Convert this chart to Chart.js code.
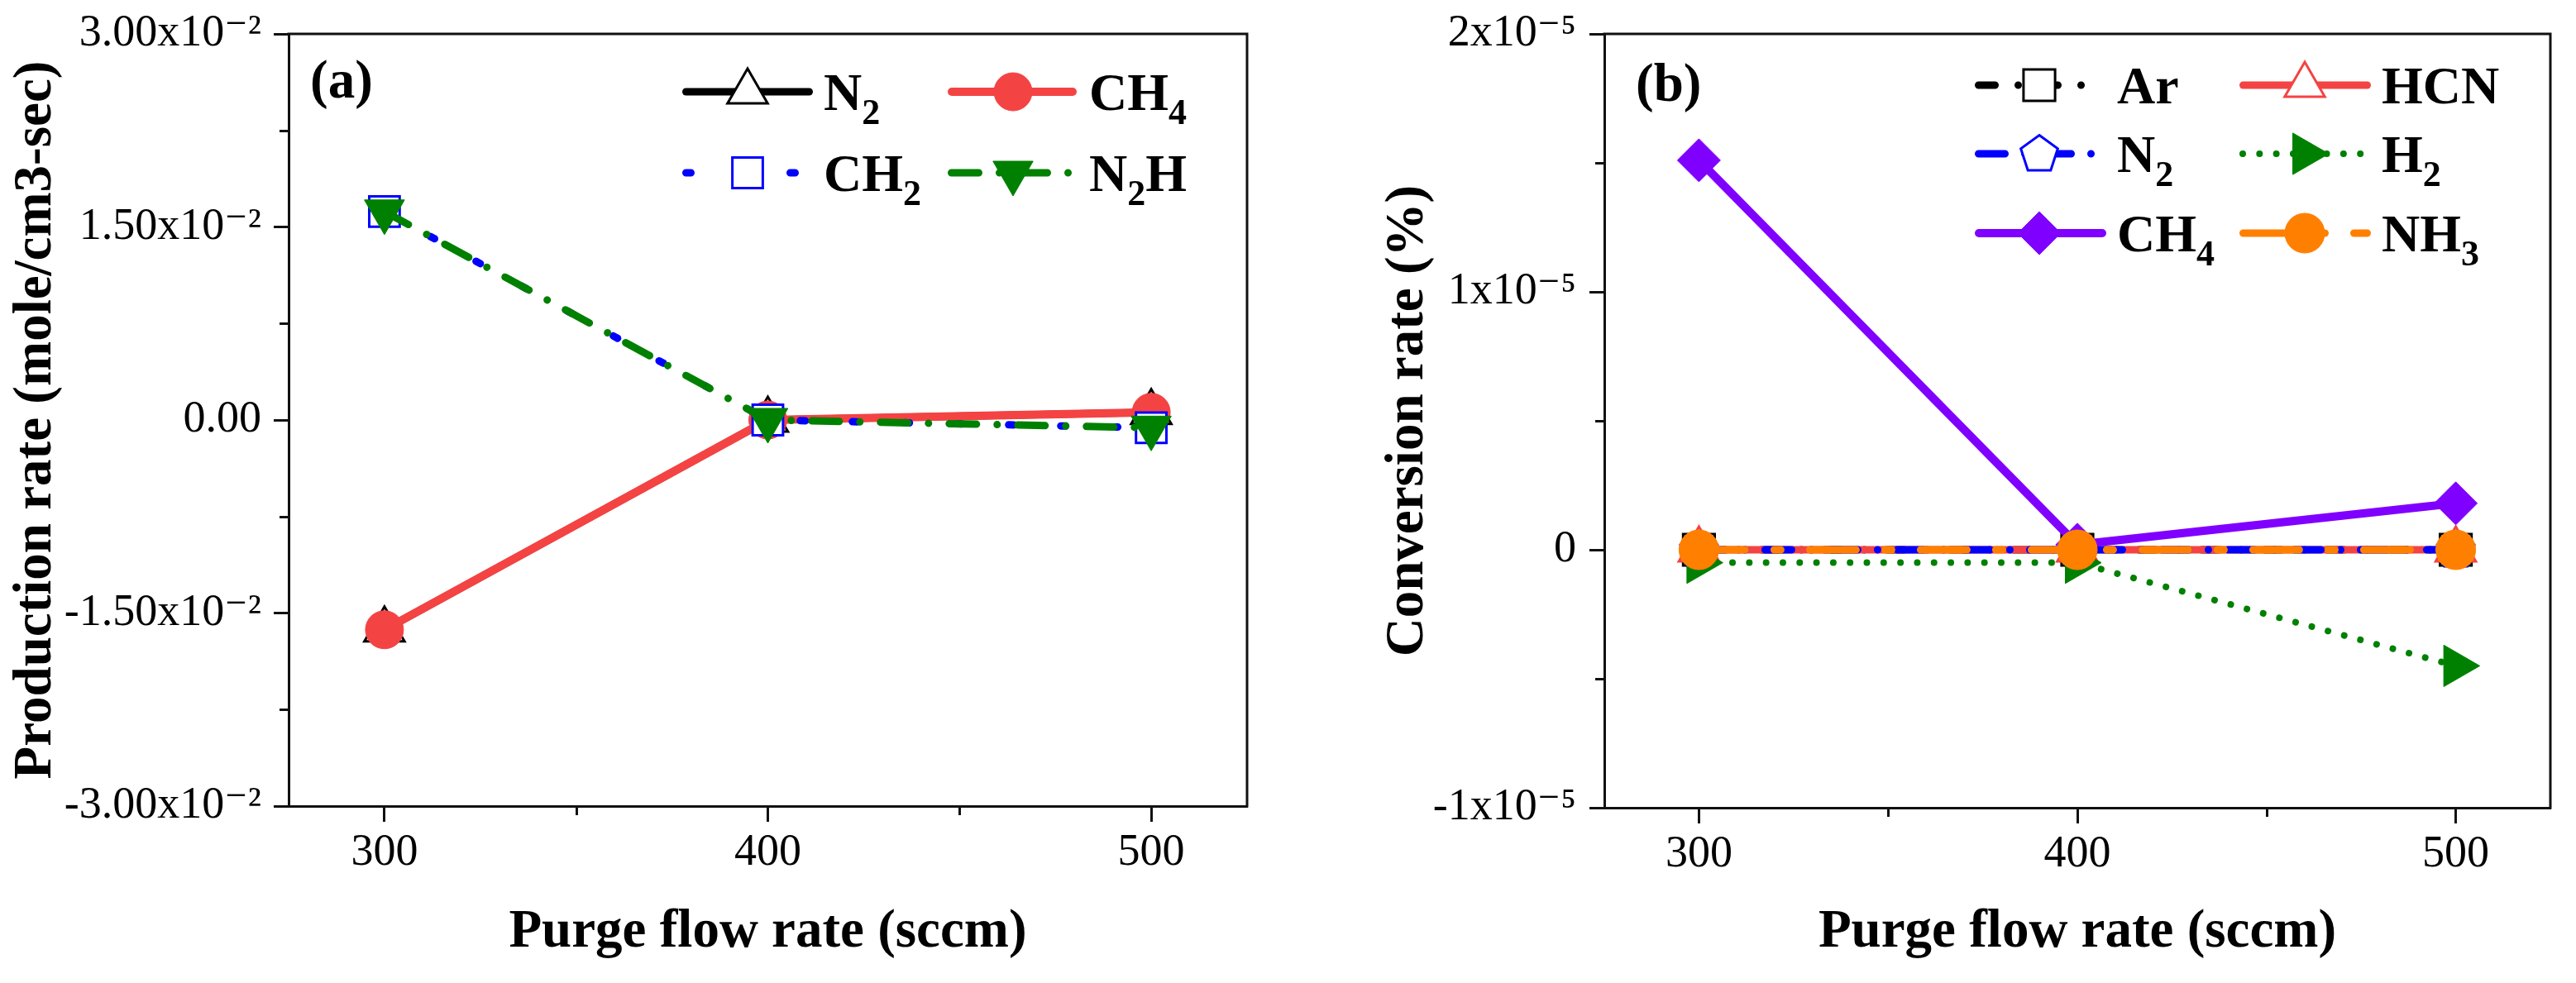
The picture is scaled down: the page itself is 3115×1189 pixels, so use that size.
<!DOCTYPE html>
<html><head><meta charset="utf-8">
<script src="https://cdn.jsdelivr.net/npm/chart.js@4/dist/chart.umd.min.js"></script>
<style>
html,body{margin:0;padding:0;background:#fff;width:3115px;height:1189px;overflow:hidden}
canvas{position:absolute;top:0}
#ca{left:0}
#cb{left:1555px}
</style></head><body>
<canvas id="ca" width="1555" height="1189" style="width:1555px;height:1189px"></canvas>
<canvas id="cb" width="1560" height="1189" style="width:1560px;height:1189px"></canvas>
<script>
// ---------------- DATA ----------------
const xValues = [300, 400, 500];
const xTicks = [300, 400, 500];
const xTickLabels = ['300', '400', '500'];

// Panel (a): production rate (mole/cm3-sec)
const aN2  = [-0.0163, 0.0000, 0.0006];
const aCH4 = [-0.0163, 0.0000, 0.0006];
const aCH2 = [0.0162, 0.0000, -0.0006];
const aN2H = [0.0162, 0.0000, -0.0006];
const aYTicks = [-0.03, -0.015, 0, 0.015, 0.03];
const aYTickLabels = ['-3.00x10\u207B\u00B2', '-1.50x10\u207B\u00B2', '0.00', '1.50x10\u207B\u00B2', '3.00x10\u207B\u00B2'];

// Panel (b): conversion rate (%)
const bAr  = [0, 0, 0];
const bHCN = [0, 0, 0];
const bN2  = [0, 0, 0];
const bH2  = [-0.05e-5, -0.05e-5, -0.45e-5];
const bCH4 = [1.51e-5, 0.02e-5, 0.18e-5];
const bNH3 = [0, 0, 0];
const bYTicks = [-1e-5, 0, 1e-5, 2e-5];
const bYTickLabels = ['-1x10\u207B\u2075', '0', '1x10\u207B\u2075', '2x10\u207B\u2075'];

// ---------------- STYLE ----------------
const FONT = "'Liberation Serif', 'Times New Roman', Times, 'DejaVu Serif', serif";
Chart.defaults.font.family = FONT;
const RED = '#f44343', BLUE = '#0000ff', GREEN = '#008000', PURPLE = '#8000ff', ORANGE = '#ff8000', BLACK = '#000000';
const AXIS = '#111111';

function makePentagon(color) {
  const c = document.createElement('canvas');
  c.width = 60; c.height = 60;
  const g = c.getContext('2d');
  const R = 23.5, cx = 30, cy = 31;
  g.beginPath();
  for (let k = 0; k < 5; k++) {
    const a = -Math.PI / 2 + k * 2 * Math.PI / 5;
    const px = cx + R * Math.cos(a), py = cy + R * Math.sin(a);
    if (k === 0) g.moveTo(px, py); else g.lineTo(px, py);
  }
  g.closePath();
  g.fillStyle = '#fff'; g.fill();
  g.lineWidth = 3; g.strokeStyle = color; g.lineJoin = 'miter'; g.stroke();
  return c;
}
const PENTAGON = makePentagon(BLUE);

function buildTickValues(majors) {
  const out = [];
  for (let i = 0; i < majors.length; i++) {
    out.push(majors[i]);
    if (i < majors.length - 1) out.push((majors[i] + majors[i + 1]) / 2);
  }
  return out;
}
function majorIndex(v, majors) {
  const tol = Math.abs(majors[majors.length - 1] - majors[0]) * 1e-6;
  for (let i = 0; i < majors.length; i++) if (Math.abs(v - majors[i]) <= tol) return i;
  return -1;
}

function ds(label, arr, s) {
  return {
    label,
    data: xValues.map((x, i) => ({ x, y: arr[i] })),
    borderColor: s.color,
    borderWidth: s.width,
    borderDash: s.dash,
    borderCapStyle: 'round',
    borderJoinStyle: 'round',
    pointStyle: s.marker,
    pointRadius: s.r,
    pointHoverRadius: s.r,
    pointRotation: s.rot || 0,
    pointBackgroundColor: s.open ? '#ffffff' : s.color,
    pointBorderColor: s.color,
    pointBorderWidth: s.open ? 3 : 1,
    tension: 0,
    fill: false,
    order: s.order,
    clip: false
  };
}

function drawMarker(ctx, s, x, y) {
  if (s.marker instanceof HTMLCanvasElement) {
    ctx.drawImage(s.marker, x - s.marker.width / 2, y - s.marker.height / 2);
    return;
  }
  ctx.save();
  ctx.setLineDash([]);
  ctx.fillStyle = s.open ? '#ffffff' : s.color;
  ctx.strokeStyle = s.color;
  ctx.lineWidth = s.open ? 3 : 1;
  const r = s.r;
  let rad = (s.rot || 0) * Math.PI / 180;
  ctx.beginPath();
  if (s.marker === 'circle') {
    ctx.arc(x, y, r, 0, 2 * Math.PI);
  } else if (s.marker === 'rect') {
    const h = Math.SQRT1_2 * r;
    ctx.rect(x - h, y - h, 2 * h, 2 * h);
  } else if (s.marker === 'rectRot') {
    ctx.moveTo(x - r, y); ctx.lineTo(x, y - r); ctx.lineTo(x + r, y); ctx.lineTo(x, y + r); ctx.closePath();
  } else if (s.marker === 'triangle') {
    ctx.moveTo(x + Math.sin(rad) * r, y - Math.cos(rad) * r);
    rad += 2 * Math.PI / 3;
    ctx.lineTo(x + Math.sin(rad) * r, y - Math.cos(rad) * r);
    rad += 2 * Math.PI / 3;
    ctx.lineTo(x + Math.sin(rad) * r, y - Math.cos(rad) * r);
    ctx.closePath();
  }
  ctx.fill();
  ctx.stroke();
  ctx.restore();
}

function drawRich(ctx, parts, x, baseline) {
  let cx = x;
  ctx.fillStyle = '#000';
  ctx.textAlign = 'left';
  ctx.textBaseline = 'alphabetic';
  for (const p of parts) {
    const sub = p[1] === true;
    ctx.font = (sub ? 'bold 44px ' : 'bold 64px ') + FONT;
    ctx.fillText(p[0], cx, baseline + (sub ? 17 : 0));
    cx += ctx.measureText(p[0]).width;
  }
}

function makeDecor(cfg) {
  return {
    id: 'decor',
    afterDraw(chart) {
      const { ctx, chartArea: ca } = chart;
      const xs = chart.scales.x, ys = chart.scales.y;
      ctx.save();
      // top & right frame
      ctx.strokeStyle = AXIS; ctx.lineWidth = 3; ctx.lineCap = 'butt'; ctx.setLineDash([]);
      ctx.beginPath();
      ctx.moveTo(ca.left - 1.5, ca.top); ctx.lineTo(ca.right, ca.top); ctx.lineTo(ca.right, ca.bottom + 1.5);
      ctx.stroke();
      // minor ticks
      ctx.beginPath();
      for (const t of ys.ticks) {
        if (majorIndex(t.value, cfg.yMajors) < 0) {
          const p = Math.round(ys.getPixelForValue(t.value)) + 0.5;
          ctx.moveTo(ca.left, p); ctx.lineTo(ca.left - 11, p);
        }
      }
      for (const t of xs.ticks) {
        if (majorIndex(t.value, xTicks) < 0) {
          const p = Math.round(xs.getPixelForValue(t.value)) + 0.5;
          ctx.moveTo(p, ca.bottom); ctx.lineTo(p, ca.bottom + 11);
        }
      }
      ctx.stroke();
      // panel label
      ctx.fillStyle = '#000';
      ctx.font = 'bold 65px ' + FONT;
      ctx.textAlign = 'left'; ctx.textBaseline = 'alphabetic';
      ctx.fillText(cfg.panel.text, cfg.panel.x, cfg.panel.y);
      // legend
      for (const e of cfg.legend) {
        const s = e.s;
        ctx.save();
        ctx.strokeStyle = s.color; ctx.lineWidth = s.width; ctx.lineCap = 'round';
        ctx.setLineDash(s.dash);
        ctx.beginPath();
        ctx.moveTo(e.x1 + s.width / 2, e.y); ctx.lineTo(e.x2 - s.width / 2, e.y);
        ctx.stroke();
        ctx.restore();
        drawMarker(ctx, s, e.mx, e.y);
        drawRich(ctx, e.parts, e.tx, e.y + 22);
      }
      ctx.restore();
    }
  };
}

function makeChart(id, cfg) {
  const canvas = document.getElementById(id);
  const W = canvas.width, H = canvas.height;
  return new Chart(canvas, {
    type: 'line',
    data: { datasets: cfg.datasets },
    options: {
      responsive: false,
      animation: false,
      devicePixelRatio: 1,
      events: [],
      layout: { padding: { left: 0, top: cfg.plotTop, right: W - cfg.plotRight, bottom: 0 } },
      plugins: { legend: { display: false }, tooltip: { enabled: false } },
      scales: {
        x: {
          type: 'linear', position: 'bottom', min: 275, max: 525,
          afterBuildTicks: (s) => { s.ticks = buildTickValues(xTicks).map(v => ({ value: v })); },
          afterFit: (s) => { s.height = H - cfg.plotBottom; s.paddingLeft = 0; s.paddingRight = 0; },
          ticks: {
            autoSkip: false, maxRotation: 0, minRotation: 0, padding: 5, color: '#000',
            font: { size: 54, family: FONT },
            callback: (v) => { const i = majorIndex(v, xTicks); return i < 0 ? '' : xTickLabels[i]; }
          },
          grid: {
            display: true, drawOnChartArea: false, drawTicks: true, tickLength: 19, tickWidth: 3,
            tickColor: (c) => (c.tick && majorIndex(c.tick.value, xTicks) >= 0) ? AXIS : 'rgba(0,0,0,0)'
          },
          border: { display: true, color: AXIS, width: 3 },
          title: {
            display: true, text: 'Purge flow rate (sccm)', color: '#000',
            font: { size: 65, weight: 'bold', family: FONT }, padding: { top: 0, bottom: 22 }
          }
        },
        y: {
          type: 'linear', position: 'left', min: cfg.yMajors[0], max: cfg.yMajors[cfg.yMajors.length - 1],
          afterBuildTicks: (s) => { s.ticks = buildTickValues(cfg.yMajors).map(v => ({ value: v })); },
          afterFit: (s) => { s.width = cfg.plotLeft; s.paddingTop = 0; s.paddingBottom = 0; },
          ticks: {
            autoSkip: false, padding: cfg.yTickPad, color: '#000',
            font: { size: 54, family: FONT },
            callback: (v) => { const i = majorIndex(v, cfg.yMajors); return i < 0 ? '' : cfg.yLabels[i]; }
          },
          grid: {
            display: true, drawOnChartArea: false, drawTicks: true, tickLength: 18, tickWidth: 3,
            tickColor: (c) => (c.tick && majorIndex(c.tick.value, cfg.yMajors) >= 0) ? AXIS : 'rgba(0,0,0,0)'
          },
          border: { display: true, color: AXIS, width: 3 },
          title: {
            display: true, text: cfg.yTitle, color: '#000',
            font: { size: 65, weight: 'bold', family: FONT }, padding: { top: cfg.yTitlePad, bottom: 0 }
          }
        }
      }
    },
    plugins: [makeDecor(cfg)]
  });
}

// ---------- Panel (a) ----------
const sA = {
  N2:  { color: BLACK, width: 9,  dash: [], marker: 'triangle', r: 28, open: true, order: 3 },
  CH4: { color: RED,   width: 10, dash: [], marker: 'circle', r: 23, open: false, order: 2 },
  CH2: { color: BLUE,  width: 9,  dash: [6, 57], marker: 'rect', r: 26, open: true, order: 1 },
  N2H: { color: GREEN, width: 9,  dash: [33, 25, 0.01, 25], marker: 'triangle', rot: 180, r: 28, open: false, order: 0 }
};
makeChart('ca', {
  plotLeft: 349, plotRight: 1508, plotTop: 41, plotBottom: 975,
  yMajors: aYTicks, yLabels: aYTickLabels, yTickPad: 15,
  yTitle: 'Production rate (mole/cm3-sec)', yTitlePad: 5,
  datasets: [
    ds('N\u2082', aN2, sA.N2),
    ds('CH\u2084', aCH4, sA.CH4),
    ds('CH\u2082', aCH2, sA.CH2),
    ds('N\u2082H', aN2H, sA.N2H)
  ],
  panel: { text: '(a)', x: 375, y: 118 },
  legend: [
    { s: sA.N2,  x1: 825,  x2: 983,  mx: 904,  tx: 996,  y: 111, parts: [['N'], ['2', true]] },
    { s: sA.CH4, x1: 1146, x2: 1302, mx: 1225, tx: 1317, y: 111, parts: [['CH'], ['4', true]] },
    { s: sA.CH2, x1: 825,  x2: 983,  mx: 904,  tx: 996,  y: 209, parts: [['CH'], ['2', true]] },
    { s: sA.N2H, x1: 1146, x2: 1302, mx: 1225, tx: 1317, y: 209, parts: [['N'], ['2', true], ['H']] }
  ]
});

// ---------- Panel (b) ----------
const sB = {
  Ar:  { color: BLACK,  width: 9,  dash: [20, 28, 0.01, 28], marker: 'rect', r: 27, open: true, order: 5 },
  HCN: { color: RED,    width: 9,  dash: [], marker: 'triangle', r: 28, open: true, order: 4 },
  N2:  { color: BLUE,   width: 9,  dash: [32, 24, 0.01, 24], marker: PENTAGON, r: 24, open: true, order: 3 },
  H2:  { color: GREEN,  width: 8,  dash: [0.01, 20.3], marker: 'triangle', rot: 90, r: 29, open: false, order: 2 },
  CH4: { color: PURPLE, width: 10, dash: [], marker: 'rectRot', r: 26, open: false, order: 1 },
  NH3: { color: ORANGE, width: 9,  dash: [56, 35, 8, 35], marker: 'circle', r: 24, open: false, order: 0 }
};
const OB = 1555; // page offset of right canvas
makeChart('cb', {
  plotLeft: 1940 - OB, plotRight: 3098 - OB, plotTop: 41, plotBottom: 977,
  yMajors: bYTicks, yLabels: bYTickLabels, yTickPad: 16,
  yTitle: 'Conversion rate (%)', yTitlePad: 109,
  datasets: [
    ds('Ar', bAr, sB.Ar),
    ds('HCN', bHCN, sB.HCN),
    ds('N\u2082', bN2, sB.N2),
    ds('H\u2082', bH2, sB.H2),
    ds('CH\u2084', bCH4, sB.CH4),
    ds('NH\u2083', bNH3, sB.NH3)
  ],
  panel: { text: '(b)', x: 1978 - OB, y: 122 },
  legend: [
    { s: sB.Ar,  x1: 2388 - OB, x2: 2547 - OB, mx: 2466 - OB, tx: 2560 - OB, y: 103, parts: [['Ar']] },
    { s: sB.HCN, x1: 2708 - OB, x2: 2867 - OB, mx: 2787 - OB, tx: 2880 - OB, y: 103, parts: [['HCN']] },
    { s: sB.N2,  x1: 2388 - OB, x2: 2547 - OB, mx: 2466 - OB, tx: 2560 - OB, y: 186, parts: [['N'], ['2', true]] },
    { s: sB.H2,  x1: 2708 - OB, x2: 2867 - OB, mx: 2787 - OB, tx: 2880 - OB, y: 186, parts: [['H'], ['2', true]] },
    { s: sB.CH4, x1: 2388 - OB, x2: 2547 - OB, mx: 2466 - OB, tx: 2560 - OB, y: 282, parts: [['CH'], ['4', true]] },
    { s: sB.NH3, x1: 2708 - OB, x2: 2867 - OB, mx: 2787 - OB, tx: 2880 - OB, y: 282, parts: [['NH'], ['3', true]] }
  ]
});
</script>
</body></html>
